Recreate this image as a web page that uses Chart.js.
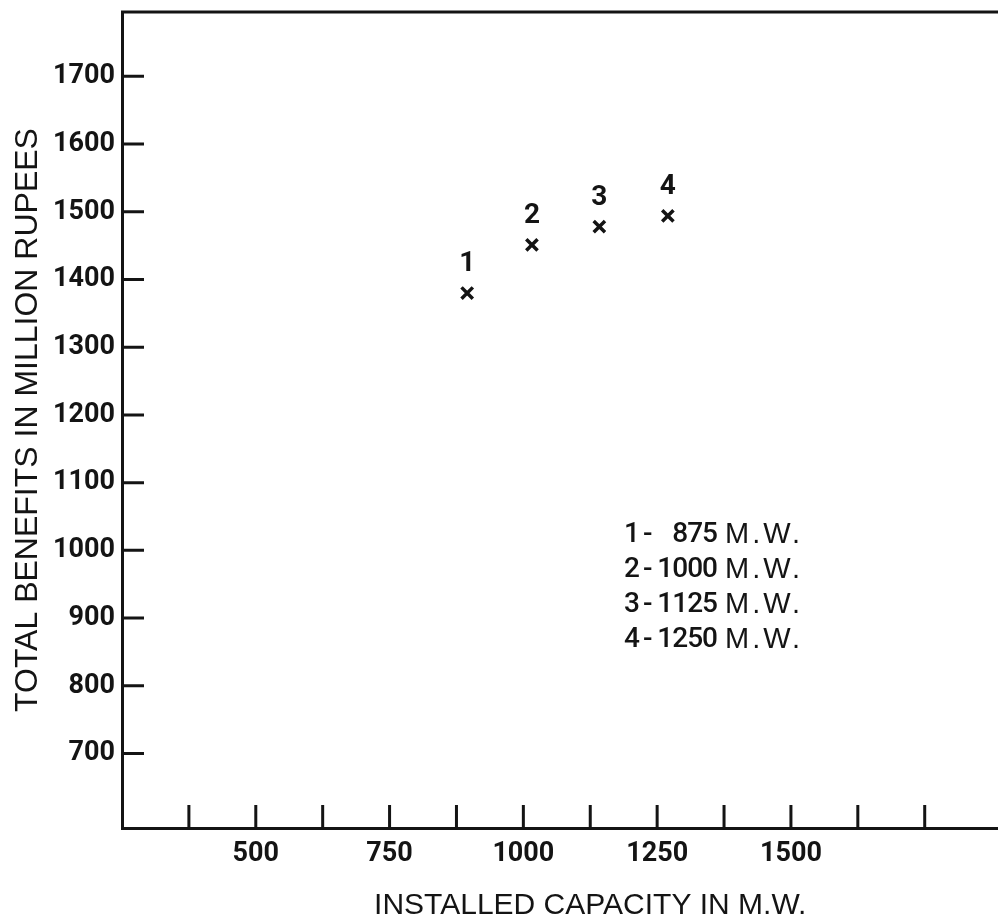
<!DOCTYPE html>
<html>
<head>
<meta charset="utf-8">
<script src="https://cdn.jsdelivr.net/npm/chart.js@4/dist/chart.umd.min.js"></script>
<style>
  html, body { margin: 0; padding: 0; background: #fff; overflow: hidden; }
  #wrap { width: 998px; height: 924px; overflow: hidden; }
  canvas { display: block; }
</style>
</head>
<body>
<div id="wrap">
  <canvas id="benefitChart" width="1070" height="924"></canvas>
</div>
<script>
// points (x = installed capacity, y = benefits)
const pointNames = ['1', '2', '3', '4']
const capacityMW = [895, 1016, 1142, 1270]
const benefits = [1380, 1451, 1478, 1494]

// key printed inside the plot
const keyCapacities = [875, 1000, 1125, 1250]

// axes
const yTicks = [700, 800, 900, 1000, 1100, 1200, 1300, 1400, 1500, 1600, 1700]
const xTickMarks = [375, 500, 625, 750, 875, 1000, 1125, 1250, 1375, 1500, 1625, 1750]
const xTickLabels = [500, 750, 1000, 1250, 1500]

const ink = '#141414'
const numFont = "Roboto, 'DejaVu Sans Condensed', sans-serif"
const textFont = "'Liberation Sans', Arial, sans-serif"

const drawExtras = {
  id: 'drawExtras',
  afterDraw(chart) {
    const { ctx, chartArea: a, scales: { x, y } } = chart
    ctx.save()
    ctx.strokeStyle = ink
    ctx.lineWidth = 3
    ctx.lineCap = 'butt'
    ctx.beginPath()
    // top frame line
    ctx.moveTo(a.left - 1, a.top)
    ctx.lineTo(a.right, a.top)
    // inward ticks on x axis
    xTickMarks.forEach(v => {
      const px = x.getPixelForValue(v)
      ctx.moveTo(px, a.bottom)
      ctx.lineTo(px, a.bottom - 23)
    })
    // inward ticks on y axis
    yTicks.forEach(v => {
      const py = y.getPixelForValue(v)
      ctx.moveTo(a.left, py)
      ctx.lineTo(a.left + 22, py)
    })
    ctx.stroke()

    // numbers above the points
    ctx.fillStyle = ink
    ctx.font = 'bold 28px ' + numFont
    ctx.textAlign = 'center'
    ctx.textBaseline = 'middle'
    const meta = chart.getDatasetMeta(0)
    meta.data.forEach((pt, i) => {
      ctx.fillText(pointNames[i], pt.x, pt.y - 29)
    })

    // key
    const x0 = a.left + 500
    const y0 = a.top + 523
    keyCapacities.forEach((c, i) => {
      const ly = y0 + i * 35
      ctx.letterSpacing = '0px'
      ctx.font = '500 28px ' + numFont
      ctx.textAlign = 'left'
      ctx.fillText(pointNames[i], x0 + 2, ly)
      ctx.fillText('-', x0 + 21, ly)
      ctx.textAlign = 'right'
      ctx.letterSpacing = '-1px'
      ctx.fillText(String(c), x0 + 95, ly)
      ctx.textAlign = 'left'
      ctx.font = '29px ' + textFont
      ctx.letterSpacing = '3px'
      ctx.fillText('M.W.', x0 + 103, ly)
    })
    ctx.restore()
  }
}

new Chart(document.getElementById('benefitChart'), {
  type: 'scatter',
  data: {
    datasets: [
      {
        label: 'Total benefits',
        data: capacityMW.map((c, i) => ({ x: c, y: benefits[i] })),
        pointStyle: 'crossRot',
        pointRadius: 8,
        pointBorderWidth: 3.5,
        borderColor: ink,
        backgroundColor: ink,
        showLine: false,
      },
    ],
  },
  options: {
    responsive: false,
    animation: false,
    layout: { padding: { top: 12, right: 5, left: 0, bottom: 0 } },
    plugins: {
      legend: { display: false },
      tooltip: { enabled: false },
    },
    scales: {
      x: {
        type: 'linear',
        min: 250,
        max: 2000,
        grid: { display: false, drawTicks: false },
        border: { display: true, color: ink, width: 3 },
        ticks: {
          stepSize: 125,
          autoSkip: false,
          maxRotation: 0,
          padding: 10,
          color: ink,
          font: { family: numFont, size: 27, weight: 'bold' },
          callback: v => (xTickLabels.includes(v) ? String(v) : ''),
        },
        title: {
          display: true,
          text: 'INSTALLED CAPACITY IN M.W.',
          color: ink,
          font: { family: textFont, size: 30 },
          padding: { top: 0, bottom: 0 },
        },
        afterFit: s => {
          s.height = 96
          s.paddingLeft = 0
          s.paddingRight = 0
        },
      },
      y: {
        type: 'linear',
        min: 590,
        max: 1795,
        grid: { display: false, drawTicks: false },
        border: { display: true, color: ink, width: 3 },
        afterBuildTicks: s => { s.ticks = yTicks.map(v => ({ value: v })) },
        ticks: {
          autoSkip: false,
          padding: 7,
          color: ink,
          font: { family: numFont, size: 27, weight: 'bold' },
          callback: v => String(v),
        },
        title: {
          display: true,
          text: 'TOTAL BENEFITS IN MILLION RUPEES',
          color: ink,
          font: { family: textFont, size: 32 },
          padding: { top: 9, bottom: 0 },
        },
        afterFit: s => {
          s.width = 122
          s.paddingTop = 0
          s.paddingBottom = 0
        },
      },
    },
  },
  plugins: [drawExtras],
})
</script>
</body>
</html>
